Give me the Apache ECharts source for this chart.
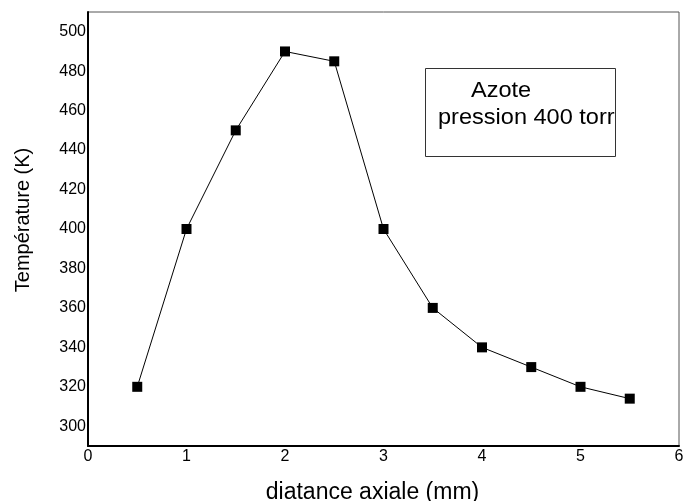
<!DOCTYPE html>
<html>
<head>
<meta charset="utf-8">
<script src="https://cdn.jsdelivr.net/npm/echarts@6/dist/echarts.min.js"></script>
<style>
  html, body { margin: 0; padding: 0; background: #fff; }
  #chart { width: 684px; height: 501px; }
</style>
</head>
<body>
<div id="chart"></div>
<script>
// données
const distances = [0.5, 1, 1.5, 2, 2.5, 3, 3.5, 4, 4.5, 5, 5.5];
const temperatures = [320, 400, 450, 490, 485, 400, 360, 340, 330, 320, 314];
const yTicks = [300, 320, 340, 360, 380, 400, 420, 440, 460, 480, 500];
const legendLines = ['Azote', 'pression 400 torr'];

const chart = echarts.init(document.getElementById('chart'), null, { renderer: 'canvas' });

const font = 'Liberation Sans, Arial, sans-serif';

chart.setOption({
    animation: false,
    grid: {
        left: 88, top: 12, right: 5, bottom: 55,
        outerBoundsMode: 'none',
        show: true, borderColor: '#555', borderWidth: 1
    },
    xAxis: {
        type: 'value',
        min: 0, max: 6, interval: 1,
        name: 'diatance axiale (mm)',
        nameLocation: 'middle',
        nameGap: 35,
        nameTextStyle: { fontFamily: font, fontSize: 23, color: '#000', padding: [0, 22, 0, 0] },
        axisLine: { lineStyle: { color: '#000', width: 2 } },
        axisTick: { show: false },
        splitLine: { show: false },
        axisLabel: { fontFamily: font, fontSize: 16, color: '#000', margin: 3 }
    },
    yAxis: {
        type: 'value',
        min: 290, max: 510,
        name: 'Température (K)',
        nameLocation: 'middle',
        nameGap: 55,
        nameTextStyle: { fontFamily: font, fontSize: 20, color: '#000', padding: [0, 0, 0, 18] },
        axisLine: { show: true, lineStyle: { color: '#000', width: 2 } },
        axisTick: { show: false },
        splitLine: { show: false },
        axisLabel: {
            fontFamily: font, fontSize: 16, color: '#000', margin: 2,
            customValues: yTicks
        }
    },
    series: [{
        type: 'line',
        data: distances.map((d, i) => [d, temperatures[i]]),
        symbol: 'rect',
        symbolSize: 10,
        itemStyle: { color: '#000' },
        lineStyle: { color: '#000', width: 1 }
    }],
    graphic: [{
        type: 'rect',
        shape: { x: 425.5, y: 68.5, width: 190, height: 88 },
        style: { fill: '#fff', stroke: '#333', lineWidth: 1 }
    }, {
        type: 'text',
        x: 471, y: 80, scaleX: 1.07,
        style: { text: legendLines[0], font: '22px ' + font, fill: '#000' }
    }, {
        type: 'text',
        x: 438, y: 107, scaleX: 1.07,
        style: { text: legendLines[1], font: '22px ' + font, fill: '#000' }
    }]
});
</script>
</body>
</html>
